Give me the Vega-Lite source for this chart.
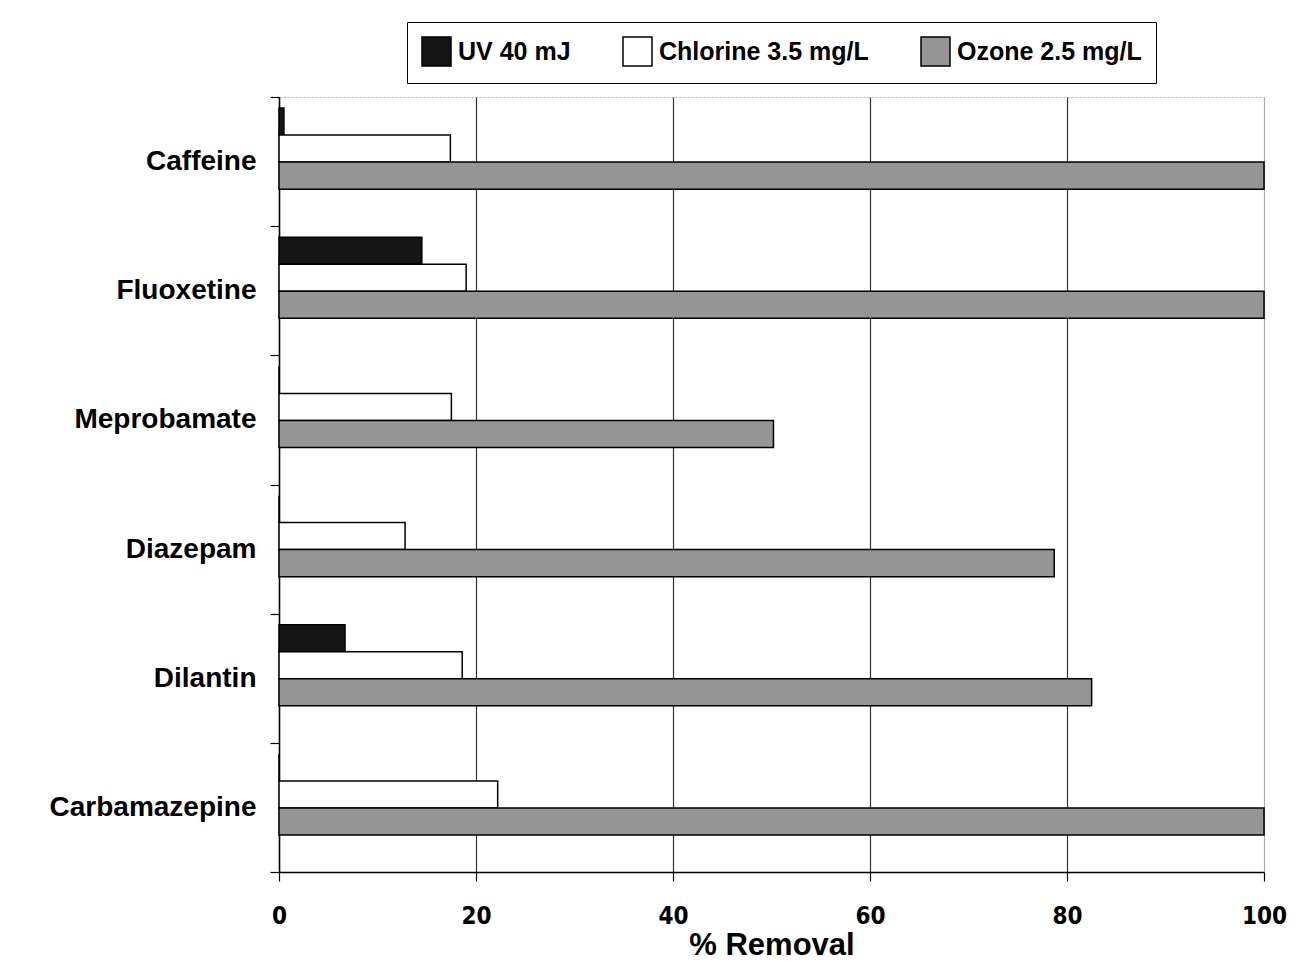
{
  "$schema": "https://vega.github.io/schema/vega-lite/v6.json",
  "width": 985,
  "height": 775,
  "autosize": {"type": "none"},
  "padding": {"left": 279, "top": 97, "right": 44, "bottom": 107},
  "background": "white",
  "config": {
    "font": "Liberation Sans",
    "view": {"stroke": "#aaaaaa", "strokeDash": [2, 2], "strokeWidth": 1}
  },
  "data": {
    "values": [
      {"drug": "Caffeine", "treatment": "UV 40 mJ", "removal": 0.5},
      {"drug": "Caffeine", "treatment": "Chlorine 3.5 mg/L", "removal": 17.4},
      {"drug": "Caffeine", "treatment": "Ozone 2.5 mg/L", "removal": 100},
      {"drug": "Fluoxetine", "treatment": "UV 40 mJ", "removal": 14.5},
      {"drug": "Fluoxetine", "treatment": "Chlorine 3.5 mg/L", "removal": 19},
      {"drug": "Fluoxetine", "treatment": "Ozone 2.5 mg/L", "removal": 100},
      {"drug": "Meprobamate", "treatment": "UV 40 mJ", "removal": 0},
      {"drug": "Meprobamate", "treatment": "Chlorine 3.5 mg/L", "removal": 17.5},
      {"drug": "Meprobamate", "treatment": "Ozone 2.5 mg/L", "removal": 50.2},
      {"drug": "Diazepam", "treatment": "UV 40 mJ", "removal": 0},
      {"drug": "Diazepam", "treatment": "Chlorine 3.5 mg/L", "removal": 12.8},
      {"drug": "Diazepam", "treatment": "Ozone 2.5 mg/L", "removal": 78.7},
      {"drug": "Dilantin", "treatment": "UV 40 mJ", "removal": 6.7},
      {"drug": "Dilantin", "treatment": "Chlorine 3.5 mg/L", "removal": 18.6},
      {"drug": "Dilantin", "treatment": "Ozone 2.5 mg/L", "removal": 82.5},
      {"drug": "Carbamazepine", "treatment": "UV 40 mJ", "removal": 0},
      {"drug": "Carbamazepine", "treatment": "Chlorine 3.5 mg/L", "removal": 22.2},
      {"drug": "Carbamazepine", "treatment": "Ozone 2.5 mg/L", "removal": 100}
    ]
  },
  "mark": {"type": "bar", "stroke": "black", "strokeWidth": 1.5},
  "encoding": {
    "y": {
      "field": "drug",
      "type": "nominal",
      "sort": ["Caffeine", "Fluoxetine", "Meprobamate", "Diazepam", "Dilantin", "Carbamazepine"],
      "scale": {"paddingInner": 0, "paddingOuter": 0},
      "axis": {
        "title": null,
        "tickBand": "extent",
        "labelFont": "Liberation Sans",
        "labelFontWeight": "bold",
        "labelFontSize": 28,
        "labelColor": "black",
        "labelLimit": 300,
        "labelPadding": 14,
        "tickColor": "black",
        "tickSize": 9,
        "tickWidth": 1.2,
        "domainColor": "black",
        "domainWidth": 1.5,
        "grid": false
      }
    },
    "yOffset": {
      "field": "treatment",
      "sort": ["UV 40 mJ", "Chlorine 3.5 mg/L", "Ozone 2.5 mg/L"],
      "scale": {"paddingInner": 0, "paddingOuter": 0.89, "align": 0.23}
    },
    "x": {
      "field": "removal",
      "type": "quantitative",
      "scale": {"domain": [0, 100], "nice": false},
      "axis": {
        "title": "% Removal",
        "values": [0, 20, 40, 60, 80, 100],
        "grid": true,
        "gridColor": {"condition": {"test": "datum.value == 100", "value": "#aaaaaa"}, "value": "#333333"},
        "gridWidth": 1.2,
        "labelFont": "DejaVu Sans Condensed",
        "labelFontWeight": "bold",
        "labelFontSize": 24,
        "labelColor": "black",
        "labelPadding": 23,
        "labelFlush": false,
        "tickColor": "black",
        "tickSize": 9,
        "tickWidth": 1.2,
        "domainColor": "black",
        "domainWidth": 1.5,
        "titleFont": "Liberation Sans",
        "titleFontWeight": "bold",
        "titleFontSize": 31,
        "titleColor": "black",
        "titlePadding": 2
      }
    },
    "fill": {
      "field": "treatment",
      "type": "nominal",
      "scale": {
        "domain": ["UV 40 mJ", "Chlorine 3.5 mg/L", "Ozone 2.5 mg/L"],
        "range": ["#151515", "#ffffff", "#959595"]
      },
      "legend": {
        "orient": "none",
        "legendX": 128,
        "legendY": -75,
        "direction": "horizontal",
        "columns": 3,
        "title": null,
        "symbolType": "square",
        "symbolSize": 841,
        "symbolStrokeColor": "black",
        "symbolStrokeWidth": 1.5,
        "symbolOpacity": 1,
        "labelFont": "Liberation Sans",
        "labelFontSize": 25,
        "labelFontWeight": "bold",
        "labelColor": "black",
        "labelLimit": 300,
        "labelOffset": 6,
        "columnPadding": 49,
        "strokeColor": "black",
        "padding": 14,
        "fillColor": "white"
      }
    }
  }
}
